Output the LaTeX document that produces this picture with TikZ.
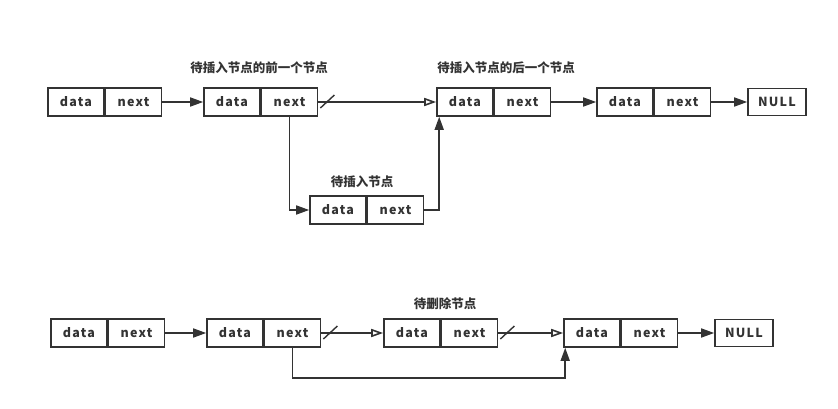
\documentclass[tikz,border=0pt]{standalone}
\usepackage{fontspec}
\setmainfont{Noto Sans CJK SC}
\newfontfamily\cellfont{Noto Sans CJK SC}[LetterSpace=10]
\usetikzlibrary{positioning,arrows.meta}
\definecolor{ink}{HTML}{333333}

\tikzset{
  cell/.style={draw=ink, text=ink, line width=1.6pt, minimum width=56pt, minimum height=28pt, inner sep=0pt, font=\cellfont\bfseries\fontsize{12.5}{14}\selectfont},
  nullbox/.style={cell, minimum width=58pt, minimum height=27pt},
  tag/.style={text=ink, font=\bfseries\fontsize{12.5}{14}\selectfont},
  link/.style={draw=ink, line width=1.6pt, -{Triangle[length=13pt,width=9pt]}},
  cut/.style={draw=ink, line width=1.6pt, -{Triangle[open,length=12pt,width=8pt]}},
  slash/.style={draw=ink, line width=1.4pt},
}

\begin{document}
\begin{tikzpicture}[x=1pt,y=-1pt]
\useasboundingbox (0,0) rectangle (838,409);

% insertion
\node[cell] (d1) at (76,102) {data};
\node[cell, right=0pt of d1] (n1) {next};
\node[cell] (d2) at (232,102) {data};
\node[cell, right=0pt of d2] (n2) {next};
\node[cell] (d3) at (465,102) {data};
\node[cell, right=0pt of d3] (n3) {next};
\node[cell] (d4) at (625,102) {data};
\node[cell, right=0pt of d4] (n4) {next};
\node[nullbox] (null1) at (777,102) {NULL};
\node[cell] (dn) at (338,210) {data};
\node[cell, right=0pt of dn] (nn) {next};

\node[tag] (prev) at (259,68) {待插入节点的前一个节点};
\node[tag] (after) at (506,68) {待插入节点的后一个节点};
\node[tag] (new) at (362,182) {待插入节点};

\draw[link] (n1) -- (d2);
\draw[cut] (n2) -- (d3);
\draw[slash] ([shift={(2pt,-6pt)}]n2.east) -- ++(14pt,13pt);
\draw[link] (n2.south) |- (dn.west);
\draw[link] (nn.east) -| ([xshift=3pt]d3.south west);
\draw[link] (n3) -- (d4);
\draw[link] (n4) -- (null1);

% deletion
\node[cell] (e1) at (79,333) {data};
\node[cell, right=0pt of e1] (m1) {next};
\node[cell] (e2) at (235,333) {data};
\node[cell, right=0pt of e2] (m2) {next};
\node[cell] (e3) at (412,333) {data};
\node[cell, right=0pt of e3] (m3) {next};
\node[cell] (e4) at (592,333) {data};
\node[cell, right=0pt of e4] (m4) {next};
\node[nullbox] (null2) at (744,333) {NULL};

\node[tag] (del) at (445,304) {待删除节点};

\draw[link] (m1) -- (e2);
\draw[cut] (m2) -- (e3);
\draw[slash] ([shift={(2pt,-6pt)}]m2.east) -- ++(14pt,13pt);
\draw[cut] (m3) -- (e4);
\draw[slash] ([shift={(2pt,-6pt)}]m3.east) -- ++(14pt,13pt);
\draw[link] (m4) -- (null2);
\draw[link] (m2.south) -- ++(0,30) -| ([xshift=2pt]e4.south west);
\end{tikzpicture}
\end{document}
